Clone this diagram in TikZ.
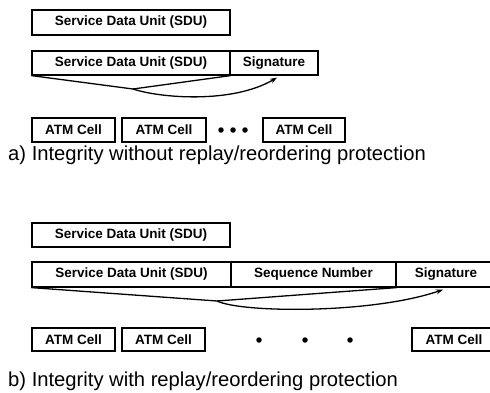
\documentclass[tikz,border=0pt]{standalone}
\usepackage{fontspec}
\setmainfont{Liberation Sans}
\usetikzlibrary{arrows.meta}
\begin{document}
\begin{tikzpicture}[x=1pt,y=-1pt,
  cellbox/.style={draw, line width=1.2pt, inner sep=0pt, anchor=center,
    font=\bfseries\fontsize{13.5}{16}\selectfont},
  caption/.style={anchor=base west, inner sep=0pt, font=\fontsize{20.2}{24}\selectfont},
  link/.style={line width=1.3pt},
  arrowlink/.style={line width=1.3pt, -{Stealth[length=7pt,width=5pt]}},
  dot/.style={circle, fill, inner sep=0pt, minimum size=5.5pt}]
\useasboundingbox (0,0) rectangle (490,392);
\clip (0,0) rectangle (490,392);

% ---- a) integrity without replay/reordering protection ----
\node[cellbox, minimum width=198pt, minimum height=25pt] (sduA) at (131,22.5) {Service Data Unit (SDU)};
\node[cellbox, minimum width=198pt, minimum height=24pt] (sduA2) at (131,63) {Service Data Unit (SDU)};
\node[cellbox, minimum width=88pt, minimum height=24pt] (sigA) at (274,63) {Signature};
\coordinate (joinA) at (133,89);
\draw[link] (sduA2.south west) -- (joinA);
\draw[link] (sduA2.south east) -- (joinA);
\draw[arrowlink] (joinA) .. controls (160,98) and (232,104) .. ([xshift=3pt,yshift=-2pt]sigA.south);

\node[cellbox, minimum width=83pt, minimum height=24pt] (cellA1) at (73.5,130) {ATM Cell};
\node[cellbox, minimum width=84pt, minimum height=24pt] (cellA2) at (164,130) {ATM Cell};
\node[dot] (dotA1) at (221,130) {};
\node[dot] (dotA2) at (233,130) {};
\node[dot] (dotA3) at (245,130) {};
\node[cellbox, minimum width=82pt, minimum height=24pt] (cellA3) at (304,130) {ATM Cell};

\node[caption] (capA) at (8,160) {a) Integrity without replay/reordering protection};

% ---- b) integrity with replay/reordering protection ----
\node[cellbox, minimum width=198pt, minimum height=24pt] (sduB) at (131,235) {Service Data Unit (SDU)};
\node[cellbox, minimum width=199pt, minimum height=25pt] (sduB2) at (131.5,274.5) {Service Data Unit (SDU)};
\node[cellbox, minimum width=165pt, minimum height=25pt] (seqB) at (313.5,274.5) {Sequence Number};
\node[cellbox, minimum width=100pt, minimum height=25pt] (sigB) at (446,274.5) {Signature};
\coordinate (joinB) at (217,301);
\draw[link] (sduB2.south west) -- (joinB);
\draw[link] (seqB.south east) -- (joinB);
\draw[arrowlink] (joinB) .. controls (242,313) and (372,314) .. ([xshift=-3pt,yshift=-2pt]sigB.south);

\node[cellbox, minimum width=83pt, minimum height=23pt] (cellB1) at (73.5,339.5) {ATM Cell};
\node[cellbox, minimum width=83pt, minimum height=23pt] (cellB2) at (163.5,339.5) {ATM Cell};
\node[dot] (dotB1) at (259,340) {};
\node[dot] (dotB2) at (305,340) {};
\node[dot] (dotB3) at (350,340) {};
\node[cellbox, minimum width=84pt, minimum height=23pt] (cellB3) at (454,339.5) {ATM Cell};

\node[caption] (capB) at (8,386) {b) Integrity with replay/reordering protection};
\end{tikzpicture}
\end{document}
